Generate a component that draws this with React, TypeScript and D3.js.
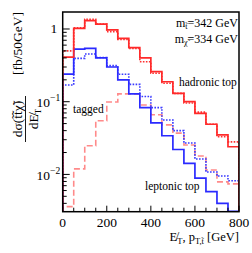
import * as d3 from 'd3';

// bin edges in GeV (16 bins of 50 GeV)
const binEdges: number[] = d3.range(0, 801, 50);

const hadronicTop = [0.41, 1.02, 1.3, 1.17, 0.97, 0.745, 0.553, 0.4, 0.26, 0.188, 0.13, 0.1, 0.069, 0.049, 0.035, 0.024];
const hadronicTopAlt = [0.5, 1.04, 1.36, 1.17, 0.92, 0.72, 0.54, 0.355, 0.246, 0.179, 0.13, 0.096, 0.072, 0.049, 0.033, 0.028];
const leptonicTop = [0.24, 0.53, 0.54, 0.4, 0.3, 0.2, 0.128, 0.083, 0.051, 0.034, 0.022, 0.0142, 0.0089, 0.0058, 0.004, 0.0031];
const leptonicTopAlt = [0.17, 0.395, 0.453, 0.405, 0.313, 0.238, 0.173, 0.118, 0.083, 0.056, 0.04, 0.027, 0.0163, 0.0108, 0.0095, 0.0082];
const tagged = [0.0036, 0.0119, 0.0248, 0.0548, 0.099, 0.128, 0.128, 0.09, 0.066, 0.048, 0.037, 0.0254, 0.0179, 0.0115, 0.0079, 0.0074];

const xTicks = [0, 200, 400, 600, 800];
const yTicks = [1, 0.1, 0.01];

const width = 252;
const height = 253;
const marginTop = 12;
const marginRight = 13;
const marginBottom = 41.3;
const marginLeft = 62.7;

const serif = '"Liberation Serif"';

const x = d3.scaleLinear([0, 800], [marginLeft, width - marginRight]);
const y = d3.scaleLog([0.00307, 1.713], [height - marginBottom, marginTop]);

const histPath = (values: number[]): string => {
  const pts: [number, number][] = [[x(binEdges[0]), y.range()[0]]];
  values.forEach((v, i) => {
    pts.push([x(binEdges[i]), y(v)]);
    pts.push([x(binEdges[i + 1]), y(v)]);
  });
  pts.push([x(binEdges[binEdges.length - 1]), y.range()[0]]);
  return d3.line()(pts) ?? '';
};

const minorY: number[] = [];
[0.001, 0.01, 0.1, 1].forEach((dec) => {
  for (let k = 2; k <= 9; k++) {
    const v = dec * k;
    if (v >= y.domain()[0] && v <= y.domain()[1]) minorY.push(v);
  }
});
const xMinor = d3.range(0, 801, 50);

const App = () => {
  const [y0, y1] = y.range();
  const [x0, x1] = x.range();
  return (
    <svg
      width={width}
      height={height}
      viewBox={`0 0 ${width} ${height}`}
      style={{ position: 'absolute', left: 0, top: 0, background: '#fff', fontFamily: serif }}
    >
      <defs>
        <clipPath id='plot'>
          <rect x={x0} y={y1} width={x1 - x0} height={y0 - y1} />
        </clipPath>
      </defs>
      <g clipPath='url(#plot)' fill='none' strokeLinejoin='miter'>
        <path d={histPath(tagged)} stroke='#ff8a8a' strokeWidth={1.6} strokeDasharray='6,3' />
        <path d={histPath(leptonicTopAlt)} stroke='#3a3aff' strokeWidth={1.6} strokeDasharray='1.6,1.4' />
        <path d={histPath(hadronicTopAlt)} stroke='#ff3030' strokeWidth={1.6} strokeDasharray='1.6,1.4' />
        <path d={histPath(leptonicTop)} stroke='#2a2aff' strokeWidth={1.7} />
        <path d={histPath(hadronicTop)} stroke='#ff2a2a' strokeWidth={1.7} />
      </g>
      {/* ticks */}
      <g stroke='#000' strokeWidth={1}>
        {xMinor.map((t) => (
          <line key={`xm${t}`} x1={x(t)} x2={x(t)} y1={y0} y2={y0 - (t % 200 === 0 ? 6 : 4)} />
        ))}
        {yTicks.map((t) => (
          <line key={`ym${t}`} x1={x0} x2={x0 + 7} y1={y(t)} y2={y(t)} />
        ))}
        {minorY.map((t) => (
          <line key={`yn${t}`} x1={x0} x2={x0 + 4} y1={y(t)} y2={y(t)} />
        ))}
      </g>
      <rect x={x0} y={y1} width={x1 - x0} height={y0 - y1} fill='none' stroke='#000' strokeWidth={1.5} />
      {/* tick labels */}
      <g style={{ fontFamily: serif, fontSize: 13.5 }} fill='#000'>
        {xTicks.map((t) => (
          <text key={`xl${t}`} x={x(t)} y={y0 + 15} textAnchor='middle'>
            {t}
          </text>
        ))}
        {yTicks.map((t) => {
          const e = Math.round(Math.log10(t));
          return e === 0 ? (
            <text key={`yl${t}`} x={x0 - 5.5} y={y(t) + 4.5} textAnchor='end'>
              1
            </text>
          ) : (
            <text key={`yl${t}`} x={x0 - 2.5} y={y(t) + 5.5} textAnchor='end'>
              10
              <tspan style={{ fontSize: 9.5 }} dy={-6}>
                {`\u2212${-e}`}
              </tspan>
            </text>
          );
        })}
      </g>
      {/* x title */}
      <text x={x1} y={240.5} textAnchor='end' style={{ fontFamily: serif, fontSize: 12.5 }}>
        {'E\u0338'}
        <tspan style={{ fontSize: 8.5 }} dy={3}>T</tspan>
        <tspan dy={-3}>, p</tspan>
        <tspan style={{ fontSize: 8.5 }} dy={3}>{'T,t\u0303'}</tspan>
        <tspan dy={-3}> [GeV]</tspan>
      </text>
      {/* y title */}
      <g transform='translate(22,119) rotate(-90)' style={{ fontFamily: serif, fontSize: 13.5 }}>
        <text x={0} y={0} textAnchor='middle'>
          {'d\u03c3(t\u0303t\u0303\u03c7\u0303)'}
        </text>
        <line x1={-23} x2={23} y1={3.5} y2={3.5} stroke='#000' strokeWidth={0.9} />
        <text x={0} y={15.5} textAnchor='middle'>
          {'dE\u0338'}
          <tspan style={{ fontSize: 9 }} dy={3}>T</tspan>
        </text>
      </g>
      <text
        transform='translate(21.5,43.5) rotate(-90)'
        textAnchor='middle'
        style={{ fontFamily: serif, fontSize: 13.5 }}
      >
        [fb/50GeV]
      </text>
      {/* annotations */}
      <g style={{ fontFamily: serif, fontSize: 11.5 }} fill='#000'>
        <text x={238} y={26.5} textAnchor='end' style={{ fontSize: 12 }}>
          m<tspan style={{ fontSize: 8 }} dy={2.5}>{'t\u0303'}</tspan>
          <tspan dy={-2.5}>=342 GeV</tspan>
        </text>
        <text x={238} y={42.5} textAnchor='end' style={{ fontSize: 12 }}>
          m<tspan style={{ fontSize: 8 }} dy={2.5}>{'\u03c7\u0303'}</tspan>
          <tspan dy={-2.5}>=334 GeV</tspan>
        </text>
        <text x={179} y={86}>hadronic top</text>
        <text x={73} y={113}>tagged</text>
        <text x={145} y={189.5}>leptonic top</text>
      </g>
    </svg>
  );
};

export default App;
